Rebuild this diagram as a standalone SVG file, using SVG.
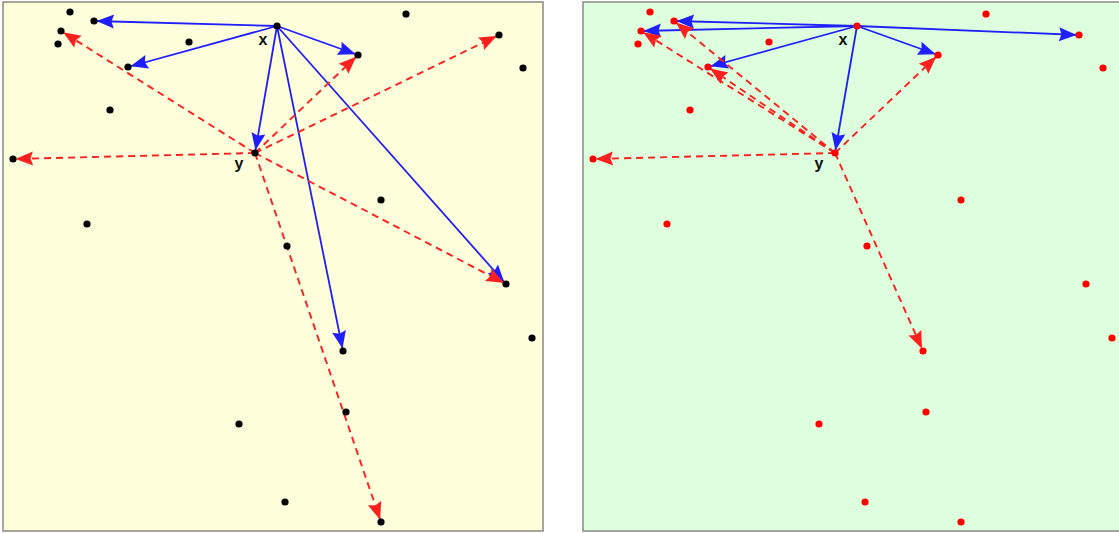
<svg xmlns="http://www.w3.org/2000/svg" width="1119" height="533" viewBox="0 0 1119 533">
<style>
.panel{stroke:#8a8a80;stroke-width:1.5}
.bl{stroke:#1f1fff;stroke-width:1.8;fill:none;marker-end:url(#ab)}
.rd{stroke:#ff1f1f;stroke-width:1.9;fill:none;stroke-dasharray:7,5;marker-end:url(#ar)}
.dk{fill:#000}
.dr{fill:#ff0000}
.lbl{font-family:"Liberation Sans",Arial,sans-serif;font-weight:bold;font-size:16px;fill:#111;text-anchor:middle}
</style>
<defs>
<marker id="ab" markerUnits="userSpaceOnUse" markerWidth="26" markerHeight="20" viewBox="-24 -10 26 20" refX="0" refY="0" orient="auto"><path d="M-2.5,0 L-20,-7 L-17.5,0 L-20,7 Z" fill="#1f1fff"/></marker>
<marker id="ar" markerUnits="userSpaceOnUse" markerWidth="26" markerHeight="20" viewBox="-24 -10 26 20" refX="0" refY="0" orient="auto"><path d="M-2.5,0 L-20,-7 L-17.5,0 L-20,7 Z" fill="#ff1f1f"/></marker>
</defs>
<rect class="panel" x="3" y="2" width="540" height="529" fill="#ffffdc"/>
<rect class="panel" x="583" y="2" width="540" height="529" fill="#ddffdd"/>

<g id="left-connectors">
<line class="bl" x1="277" y1="26" x2="94" y2="21"/>
<line class="bl" x1="277" y1="26" x2="128" y2="67"/>
<line class="bl" x1="277" y1="26" x2="358" y2="55"/>
<line class="bl" x1="277" y1="26" x2="255" y2="153"/>
<line class="bl" x1="277" y1="26" x2="343" y2="351"/>
<line class="bl" x1="277" y1="26" x2="506" y2="284"/>
<line class="rd" x1="255" y1="153" x2="61" y2="31"/>
<line class="rd" x1="255" y1="153" x2="13" y2="159"/>
<line class="rd" x1="255" y1="153" x2="358" y2="55"/>
<line class="rd" x1="255" y1="153" x2="499" y2="35"/>
<line class="rd" x1="255" y1="153" x2="506" y2="284"/>
<line class="rd" x1="255" y1="153" x2="381" y2="522"/>
</g>

<g id="left-nodes" class="dk">
<g id="L1"><circle cx="70" cy="12" r="3.6"/></g>
<g id="L2"><circle cx="94" cy="21" r="3.6"/></g>
<g id="L3"><circle cx="61" cy="31" r="3.6"/></g>
<g id="L4"><circle cx="58" cy="44" r="3.6"/></g>
<g id="L5"><circle cx="189" cy="42" r="3.6"/></g>
<g id="L6"><circle cx="128" cy="67" r="3.6"/></g>
<g id="L7"><circle cx="110" cy="110" r="3.6"/></g>
<g id="L8"><circle cx="13" cy="159" r="3.6"/></g>
<g id="Lx"><circle cx="277" cy="26" r="3.6"/><text class="lbl" x="263" y="45">x</text></g>
<g id="Ly"><circle cx="255" cy="153" r="3.6"/><text class="lbl" x="239" y="169">y</text></g>
<g id="L11"><circle cx="406" cy="14" r="3.6"/></g>
<g id="L12"><circle cx="358" cy="55" r="3.6"/></g>
<g id="L13"><circle cx="499" cy="35" r="3.6"/></g>
<g id="L14"><circle cx="523" cy="68" r="3.6"/></g>
<g id="L15"><circle cx="87" cy="224" r="3.6"/></g>
<g id="L16"><circle cx="287" cy="246" r="3.6"/></g>
<g id="L17"><circle cx="381" cy="200" r="3.6"/></g>
<g id="L18"><circle cx="506" cy="284" r="3.6"/></g>
<g id="L19"><circle cx="532" cy="338" r="3.6"/></g>
<g id="L20"><circle cx="343" cy="351" r="3.6"/></g>
<g id="L21"><circle cx="346" cy="412" r="3.6"/></g>
<g id="L22"><circle cx="239" cy="424" r="3.6"/></g>
<g id="L23"><circle cx="285" cy="502" r="3.6"/></g>
<g id="L24"><circle cx="381" cy="522" r="3.6"/></g>
</g>

<g transform="translate(580,0)">
<g id="right-connectors">
<line class="bl" x1="277" y1="26" x2="94" y2="21"/>
<line class="bl" x1="277" y1="26" x2="61" y2="31"/>
<line class="bl" x1="277" y1="26" x2="128" y2="67"/>
<line class="bl" x1="277" y1="26" x2="358" y2="55"/>
<line class="bl" x1="277" y1="26" x2="499" y2="35"/>
<line class="bl" x1="277" y1="26" x2="255" y2="153"/>
<line class="rd" x1="255" y1="153" x2="94" y2="21"/>
<line class="rd" x1="255" y1="153" x2="61" y2="31"/>
<line class="rd" x1="255" y1="153" x2="128" y2="67"/>
<line class="rd" x1="255" y1="153" x2="358" y2="55"/>
<line class="rd" x1="255" y1="153" x2="13" y2="159"/>
<line class="rd" x1="255" y1="153" x2="343" y2="351"/>
</g>
<g id="right-nodes" class="dr">
<g id="R1"><circle cx="70" cy="12" r="3.6"/></g>
<g id="R2"><circle cx="94" cy="21" r="3.6"/></g>
<g id="R3"><circle cx="61" cy="31" r="3.6"/></g>
<g id="R4"><circle cx="58" cy="44" r="3.6"/></g>
<g id="R5"><circle cx="189" cy="42" r="3.6"/></g>
<g id="R6"><circle cx="128" cy="67" r="3.6"/></g>
<g id="R7"><circle cx="110" cy="110" r="3.6"/></g>
<g id="R8"><circle cx="13" cy="159" r="3.6"/></g>
<g id="Rx"><circle cx="277" cy="26" r="3.6"/><text class="lbl" x="263" y="45">x</text></g>
<g id="Ry"><circle cx="255" cy="153" r="3.6"/><text class="lbl" x="239" y="169">y</text></g>
<g id="R11"><circle cx="406" cy="14" r="3.6"/></g>
<g id="R12"><circle cx="358" cy="55" r="3.6"/></g>
<g id="R13"><circle cx="499" cy="35" r="3.6"/></g>
<g id="R14"><circle cx="523" cy="68" r="3.6"/></g>
<g id="R15"><circle cx="87" cy="224" r="3.6"/></g>
<g id="R16"><circle cx="287" cy="246" r="3.6"/></g>
<g id="R17"><circle cx="381" cy="200" r="3.6"/></g>
<g id="R18"><circle cx="506" cy="284" r="3.6"/></g>
<g id="R19"><circle cx="532" cy="338" r="3.6"/></g>
<g id="R20"><circle cx="343" cy="351" r="3.6"/></g>
<g id="R21"><circle cx="346" cy="412" r="3.6"/></g>
<g id="R22"><circle cx="239" cy="424" r="3.6"/></g>
<g id="R23"><circle cx="285" cy="502" r="3.6"/></g>
<g id="R24"><circle cx="381" cy="522" r="3.6"/></g>
</g>
</g>
</svg>
